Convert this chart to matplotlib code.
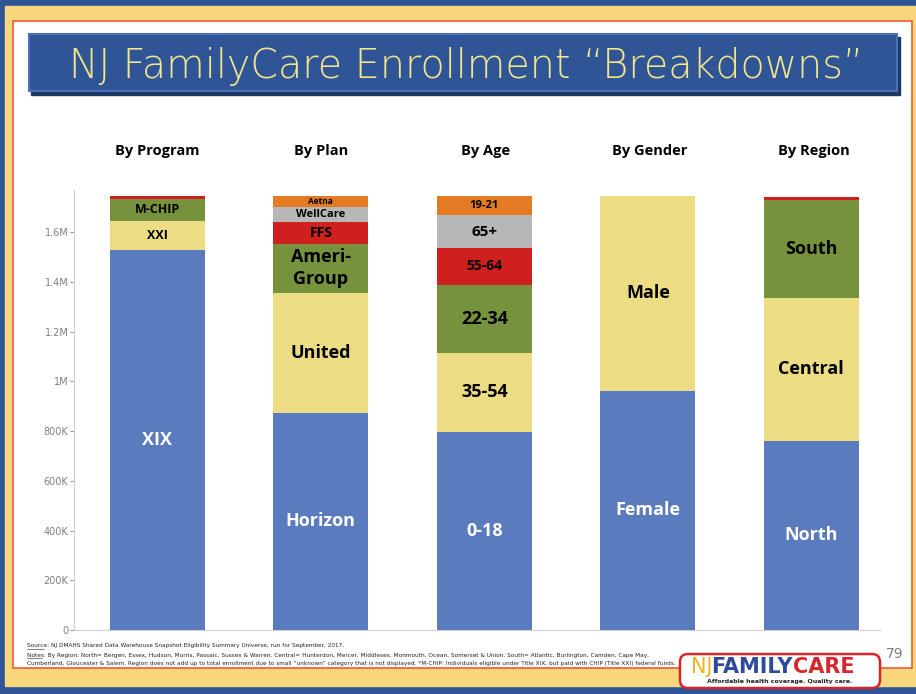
"""
Recreacion del grafico "NJ FamilyCare Enrollment Breakdowns" (barras apiladas).
Salida: out.png (916x694)
"""
import numpy as np
import matplotlib
matplotlib.use("Agg")
import matplotlib.pyplot as plt
from matplotlib.patches import Rectangle, FancyBboxPatch

# ---- datos (millones) ----
CATEGORIAS = ["By Program", "By Plan", "By Age", "By Gender", "By Region"]

PROGRAM_LABELS = ["XIX", "XXI", "M-CHIP", ""]
PROGRAM_VALS = [1.528, 0.117, 0.088, 0.012]

PLAN_LABELS = ["Horizon", "United", "Ameri-\nGroup", "FFS", "WellCare", "Aetna"]
PLAN_VALS = [0.874, 0.482, 0.196, 0.088, 0.060, 0.045]

AGE_LABELS = ["0-18", "35-54", "22-34", "55-64", "65+", "19-21"]
AGE_VALS = [0.796, 0.318, 0.273, 0.149, 0.132, 0.077]

GENDER_LABELS = ["Female", "Male"]
GENDER_VALS = [0.962, 0.783]

REGION_LABELS = ["North", "Central", "South", ""]
REGION_VALS = [0.760, 0.575, 0.394, 0.010]

YTICKS = [0, 0.2, 0.4, 0.6, 0.8, 1.0, 1.2, 1.4, 1.6]
YTICK_LABELS = ["0", "200K", "400K", "600K", "800K", "1M", "1.2M", "1.4M", "1.6M"]

AZUL = "#5A7BBE"
AMAR = "#ECDD85"
VERDE = "#76923C"
ROJO = "#CF1F1F"
GRIS = "#B7B7B7"
NARANJA = "#E47A22"

pilas = [
    (PROGRAM_LABELS, PROGRAM_VALS, [AZUL, AMAR, VERDE, ROJO],
     [13, 9, 9, 1], ["white", "black", "black", "black"]),
    (PLAN_LABELS, PLAN_VALS, [AZUL, AMAR, VERDE, ROJO, GRIS, NARANJA],
     [13, 13, 13, 10, 8, 6], ["white", "black", "black", "black", "black", "black"]),
    (AGE_LABELS, AGE_VALS, [AZUL, AMAR, VERDE, ROJO, GRIS, NARANJA],
     [13, 13, 13, 10, 11, 8], ["white", "black", "black", "black", "black", "black"]),
    (GENDER_LABELS, GENDER_VALS, [AZUL, AMAR],
     [13, 13], ["white", "black"]),
    (REGION_LABELS, REGION_VALS, [AZUL, AMAR, VERDE, ROJO],
     [13, 13, 13, 1], ["white", "black", "black", "black"]),
]

W, H = 916, 694
fig = plt.figure(figsize=(W / 100, H / 100), dpi=100)

# ---- fondo / marco de la diapositiva (coords en pixeles) ----
bg = fig.add_axes([0, 0, 1, 1])
bg.set_xlim(0, W); bg.set_ylim(H, 0); bg.axis("off")
bg.add_patch(Rectangle((0, 0), W, H, color="#2F5496", zorder=0))
bg.add_patch(Rectangle((5, 6), W - 5, 680, color="#F7D67C", zorder=1))
bg.add_patch(Rectangle((13, 21), 899, 647, facecolor="white", edgecolor="#EE5A3A", lw=1.2, zorder=2))

# titulo
bg.add_patch(Rectangle((31, 37), 869, 58, color="#1F3864", zorder=3))
bg.add_patch(Rectangle((29, 34), 868, 57, facecolor="#2F5597", edgecolor="#4A72B8", lw=1.5, zorder=4))
bg.text(466, 66, "NJ FamilyCare Enrollment \u201cBreakdowns\u201d", color="#F2E58C",
        fontsize=28.5, family="DejaVu Sans", weight="light", ha="center", va="center", zorder=5)

# notas al pie
nota_kw = dict(fontsize=4.15, color="#222222", family="DejaVu Sans Condensed", zorder=5)
bg.text(27, 646, "Source: NJ DMAHS Shared Data Warehouse Snapshot Eligibility Summary Universe, run for September, 2017.",
        va="center", **nota_kw)
bg.text(27, 655, "Notes: By Region: North= Bergen, Essex, Hudson, Morris, Passaic, Sussex & Warren. "
        "Central= Hunterdon, Mercer, Middlesex, Monmouth, Ocean, Somerset & Union. South= Atlantic, Burlington, Camden, Cape May,",
        va="center", **nota_kw)
bg.text(27, 664, "Cumberland, Gloucester & Salem. Region does not add up to total enrollment due to small \u201cunknown\u201d "
        "category that is not displayed. *M-CHIP: Individuals eligible under Title XIX, but paid with CHIP (Title XXI) federal funds.",
        va="center", **nota_kw)
bg.plot([27, 44], [649, 649], color="#222222", lw=0.4, zorder=5)
bg.plot([27, 42], [658, 658], color="#222222", lw=0.4, zorder=5)

# numero de pagina
bg.text(895, 654, "79", fontsize=10, color="#7F7F7F", ha="center", va="center", zorder=5)

# logo
bg.add_patch(FancyBboxPatch((680, 654), 200, 34, boxstyle="round,pad=0,rounding_size=8",
                            facecolor="white", edgecolor="#D8262A", lw=1.8, zorder=6))
bg.text(691, 667, "NJ", fontsize=15, color="#F0B323", va="center", zorder=7)
bg.text(711, 667, "FAMILY", fontsize=15, color="#2E4A9A", weight="bold", va="center", zorder=7)
bg.text(793, 667, "CARE", fontsize=15, color="#D8262A", weight="bold", va="center", zorder=7)
bg.text(780, 682, "Affordable health coverage. Quality care.", fontsize=4.5, color="#222222",
        ha="center", va="center", weight="bold", zorder=7)

# ---- grafico ----
ax = fig.add_axes([74 / W, (H - 630) / H, (880 - 74) / W, (630 - 190) / H])
ax.set_zorder(3)
ax.patch.set_alpha(0)
x = np.arange(len(CATEGORIAS))
for i, (labs, vals, cols, sizes, tcols) in enumerate(pilas):
    base = 0.0
    for lab, v, c, fs, tc in zip(labs, vals, cols, sizes, tcols):
        ax.bar(x[i], v, bottom=base, width=0.58, color=c, edgecolor="none")
        if lab:
            ax.text(x[i], base + v / 2, lab, ha="center", va="center", fontsize=fs,
                    color=tc, weight="bold", family="Open Sans", linespacing=1.3)
        base += v

ax.set_xlim(-0.51, 4.42)
ax.set_ylim(0, 1.769)
ax.set_yticks(YTICKS)
ax.set_yticklabels(YTICK_LABELS)
ax.set_xticks([])
ax.tick_params(axis="y", labelsize=7, colors="#7F7F7F", length=3, width=0.6, pad=1)
for s in ["top", "right"]:
    ax.spines[s].set_visible(False)
for s in ["left", "bottom"]:
    ax.spines[s].set_color("#D0D0D0")
    ax.spines[s].set_linewidth(0.8)

# titulos de categoria sobre cada barra
for i, cat in enumerate(CATEGORIAS):
    bg.text(157.5 + 164 * i, 151, cat, ha="center", va="center", fontsize=10.5,
            weight="bold", family="Open Sans", color="black", zorder=5)

fig.savefig("out.png", dpi=100)
